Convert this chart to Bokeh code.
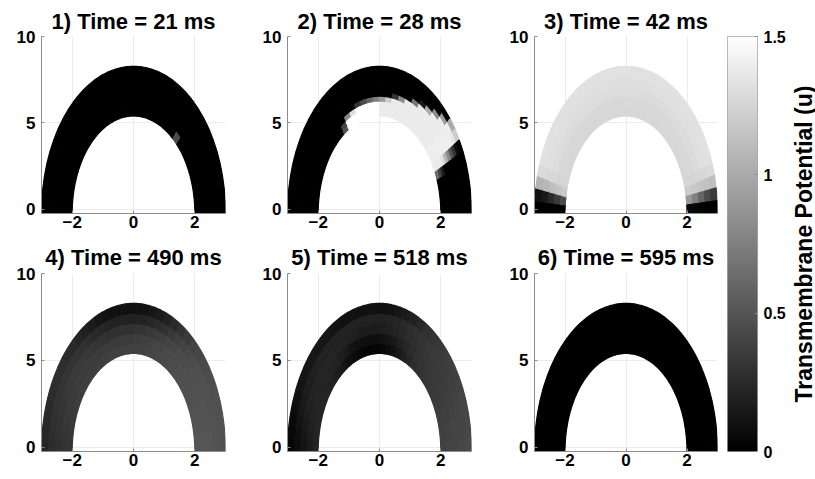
import numpy as np
from bokeh.plotting import figure
from bokeh.models import ColumnDataSource, LinearColorMapper, Range1d
from bokeh.layouts import row, column
from bokeh.transform import transform
from bokeh.core.properties import value
from bokeh.embed import file_html
from bokeh.resources import INLINE

# ---------------- data ----------------
TITLES = ["1) Time = 21 ms", "2) Time = 28 ms", "3) Time = 42 ms",
          "4) Time = 490 ms", "5) Time = 518 ms", "6) Time = 595 ms"]
X_TICKS = [-2, 0, 2]
Y_TICKS = [0, 5, 10]
CB_TICKS = [0, 0.5, 1, 1.5]
CB_TICK_LABELS = ["0", "0.5", "1", "1.5"]
CB_LABEL = "Transmembrane Potential (u)"
V_MIN, V_MAX = 0.0, 1.5

# wall geometry (half-ellipse annulus)
OUTER_A, OUTER_B = 3.0, 8.52
INNER_A, INNER_B = 2.0, 5.64
BASE_Y = -0.24

# field values per panel: rows = layers inner -> outer,
# columns = 36 cells along the wall from left base to right base
P1_VALUES = [
    [0.0] * 26 + [0.45] + [0.0] * 9,
    [0.0] * 36,
    [0.0] * 36,
    [0.0] * 36,
    [0.0] * 36,
]
P2_VALUES = [
    [0]*11 + [0.5] + [1.5]*6 + [1.38]*10 + [1.4, 1.4, 1.38, 0.65] + [0]*4,
    [0]*11 + [0.4] + [1.5]*6 + [1.38]*10 + [1.4, 1.4, 1.38, 0.4] + [0]*4,
    [0]*11 + [0, 0.8, 1.3] + [1.5]*4 + [1.38]*10 + [1.4, 1.4, 1.38, 0.18] + [0]*4,
    [0]*14 + [0.3, 0.45, 0.6, 0.75, 0.9, 1.2] + [1.38]*8 + [1.4, 1.4, 1.3, 0] + [0]*4,
    [0]*20 + [0.3, 0.8] + [1.38]*6 + [1.4, 1.4, 1.05] + [0]*5,
    [0]*23 + [0.7] + [1.38]*4 + [1.4, 1.4, 0.8] + [0]*5,
    [0]*24 + [0.15, 1.0, 1.38, 1.38, 1.4, 1.4, 0.5] + [0]*5,
    [0]*26 + [0.8, 1.38, 1.4, 1.4, 0.3] + [0]*5,
    [0]*27 + [0.9, 1.4, 1.35, 0.08] + [0]*5,
    [0]*28 + [1.0, 1.2, 0] + [0]*5,
]
P3_VALUES = [
    [0, 0.45, 1.18, 1.25] + [1.26]*28 + [1.25, 1.2, 0.9, 0.05],
    [0, 0.35, 1.15, 1.25] + [1.27]*28 + [1.25, 1.18, 0.75, 0.03],
    [0, 0.25, 1.12, 1.26] + [1.29]*28 + [1.26, 1.16, 0.6, 0.02],
    [0, 0.15, 1.08, 1.27] + [1.31]*28 + [1.27, 1.14, 0.45, 0],
    [0, 0.1, 1.05, 1.28] + [1.32]*28 + [1.28, 1.12, 0.35, 0],
]
P4_VALUES = [
    [0.31,0.32,0.33,0.34,0.35,0.36,0.36,0.37,0.37,0.37,0.37,0.37,0.37,0.37,0.38,0.38,0.38,0.38,
     0.38,0.39,0.4,0.41,0.42,0.43,0.44,0.45,0.46,0.47,0.47,0.48,0.48,0.49,0.49,0.49,0.5,0.5],
    [0.3,0.31,0.32,0.33,0.34,0.35,0.35,0.36,0.36,0.36,0.36,0.35,0.35,0.35,0.35,0.35,0.35,0.35,
     0.36,0.37,0.38,0.4,0.41,0.43,0.44,0.45,0.46,0.47,0.47,0.48,0.48,0.49,0.49,0.49,0.5,0.5],
    [0.28,0.29,0.3,0.31,0.32,0.33,0.34,0.34,0.34,0.34,0.33,0.32,0.31,0.3,0.29,0.29,0.29,0.29,
     0.3,0.31,0.33,0.35,0.37,0.4,0.42,0.44,0.45,0.46,0.47,0.48,0.48,0.49,0.49,0.49,0.5,0.5],
    [0.26,0.27,0.28,0.29,0.3,0.31,0.31,0.31,0.31,0.3,0.29,0.27,0.25,0.23,0.21,0.2,0.2,0.2,
     0.2,0.21,0.23,0.26,0.29,0.33,0.37,0.4,0.43,0.45,0.46,0.47,0.48,0.48,0.48,0.49,0.49,0.49],
    [0.22,0.23,0.24,0.25,0.26,0.27,0.27,0.27,0.26,0.25,0.22,0.19,0.16,0.13,0.11,0.1,0.1,0.1,
     0.1,0.11,0.13,0.16,0.2,0.25,0.3,0.35,0.39,0.42,0.44,0.45,0.46,0.47,0.47,0.48,0.48,0.48],
]
P5_VALUES = [
    [0.2,0.21,0.22,0.22,0.22,0.22,0.22,0.21,0.2,0.18,0.16,0.12,0.09,0.07,0.05,0.04,0.04,0.04,
     0.05,0.07,0.1,0.14,0.19,0.23,0.27,0.29,0.31,0.32,0.33,0.34,0.35,0.36,0.37,0.38,0.38,0.39],
    [0.16,0.17,0.19,0.2,0.21,0.22,0.22,0.22,0.22,0.21,0.2,0.18,0.15,0.12,0.1,0.09,0.09,0.09,
     0.1,0.12,0.15,0.19,0.23,0.26,0.29,0.31,0.32,0.33,0.34,0.35,0.36,0.37,0.38,0.39,0.39,0.4],
    [0.12,0.13,0.15,0.17,0.19,0.2,0.21,0.22,0.22,0.22,0.22,0.21,0.2,0.19,0.18,0.17,0.17,0.17,
     0.18,0.19,0.21,0.23,0.26,0.28,0.3,0.32,0.33,0.34,0.35,0.36,0.37,0.38,0.39,0.4,0.4,0.41],
    [0.08,0.09,0.11,0.13,0.15,0.17,0.18,0.19,0.2,0.2,0.2,0.2,0.2,0.2,0.2,0.2,0.2,0.2,
     0.2,0.21,0.22,0.24,0.27,0.29,0.31,0.33,0.34,0.35,0.36,0.37,0.38,0.39,0.4,0.41,0.41,0.42],
    [0.04,0.05,0.06,0.08,0.1,0.12,0.13,0.14,0.14,0.14,0.13,0.12,0.11,0.1,0.1,0.1,0.1,0.1,
     0.1,0.11,0.13,0.16,0.2,0.24,0.28,0.31,0.33,0.35,0.37,0.38,0.39,0.4,0.41,0.42,0.42,0.43],
]
P6_VALUES = [[0.0] * 36 for _ in range(5)]

PANEL_VALUES = [P1_VALUES, P2_VALUES, P3_VALUES, P4_VALUES, P5_VALUES, P6_VALUES]

# ---------------- style ----------------
FONT = "Liberation Sans"
GRAY = ["#%02x%02x%02x" % (i, i, i) for i in range(256)]
mapper = LinearColorMapper(palette=GRAY, low=V_MIN, high=V_MAX)

COL_BORDERS = [(41, 31), (31, 32), (31, 5)]
COL_FRAME_W = [184, 184, 183]
ROW_SPEC = [(36, 177, 26, 5), (34, 178, 24, 7)]  # top border, frame h, bottom border, title standoff


def cell_source(vals):
    n_rad = len(vals)
    n_ang = len(vals[0])
    th = np.linspace(np.pi, 0.0, n_ang + 1)
    rr = np.linspace(0.0, 1.0, n_rad + 1)
    xs, ys, vs = [], [], []

    def edge(r, tt):
        a = INNER_A + (OUTER_A - INNER_A) * r
        b = INNER_B + (OUTER_B - INNER_B) * r
        return a * np.cos(tt), BASE_Y + b * np.sin(tt)

    for k in range(n_rad):
        for j in range(n_ang):
            t = np.linspace(th[j], th[j + 1], 4)
            xa, ya = edge(rr[k], t)
            xb, yb = edge(rr[k + 1], t[::-1])
            xs.append(np.concatenate([xa, xb]).tolist())
            ys.append(np.concatenate([ya, yb]).tolist())
            vs.append(vals[k][j])
    return ColumnDataSource(dict(xs=xs, ys=ys, v=vs))


def make_panel(idx):
    r, c = divmod(idx, 3)
    top, fh, bottom, standoff = ROW_SPEC[r]
    left, right = COL_BORDERS[c]
    p = figure(frame_width=COL_FRAME_W[c], frame_height=fh,
               min_border_top=top, min_border_bottom=bottom,
               min_border_left=left, min_border_right=right,
               x_range=Range1d(-3, 3), y_range=Range1d(BASE_Y, 10),
               toolbar_location=None, output_backend="svg", title=TITLES[idx],
               outline_line_color=None)
    p.title.align = "center"
    p.title.text_font = FONT
    p.title.text_font_style = "bold"
    p.title.text_font_size = "22px"
    p.title.text_color = "black"
    p.title.standoff = standoff
    p.title.offset = 0
    src = cell_source(PANEL_VALUES[idx])
    p.patches("xs", "ys", source=src,
              fill_color=transform("v", mapper),
              line_color=transform("v", mapper), line_width=1.2)
    p.xaxis.ticker = X_TICKS
    p.yaxis.ticker = Y_TICKS
    for ax in (p.xaxis[0], p.yaxis[0]):
        ax.major_label_text_font = FONT
        ax.major_label_text_font_style = "bold"
        ax.major_label_text_font_size = "17px"
        ax.major_label_text_color = "black"
        ax.axis_line_color = "#8c8c8c"
        ax.major_tick_line_color = "#8c8c8c"
        ax.major_tick_in = 3
        ax.major_tick_out = 0
        ax.minor_tick_line_color = None
    p.xaxis.major_label_standoff = 2
    p.yaxis.major_label_standoff = 6
    p.xgrid.grid_line_color = "#ebebeb"
    p.ygrid.grid_line_color = "#ebebeb"
    return p


panels = [make_panel(i) for i in range(6)]

# colorbar
cb = figure(frame_width=30, frame_height=415, min_border_top=36, min_border_bottom=24,
            min_border_left=5, min_border_right=30,
            x_range=Range1d(0, 1), y_range=Range1d(V_MIN, V_MAX),
            toolbar_location=None, output_backend="svg", title=None,
            x_axis_location=None, y_axis_location="right",
            outline_line_color="#a6a6a6")
grad = np.linspace(V_MIN, V_MAX, 256).reshape(256, 1)
cb.image(image=[grad], x=0, y=V_MIN, dw=1, dh=V_MAX - V_MIN, color_mapper=mapper)
cb.xgrid.visible = False
cb.ygrid.visible = False
ya = cb.yaxis[0]
ya.ticker = CB_TICKS
ya.major_label_overrides = {t: s for t, s in zip(CB_TICKS, CB_TICK_LABELS)}
ya.major_label_text_font = FONT
ya.major_label_text_font_style = "bold"
ya.major_label_text_font_size = "16px"
ya.major_label_text_color = "black"
ya.axis_line_color = None
ya.major_tick_line_color = "#8c8c8c"
ya.major_tick_in = 3
ya.major_tick_out = 0
ya.minor_tick_line_color = None
ya.major_label_standoff = 6

# colorbar label (rotated, reading bottom to top)
lab = figure(frame_width=28, frame_height=415, min_border_top=36, min_border_bottom=24,
             min_border_left=0, min_border_right=0,
             x_range=Range1d(0, 1), y_range=Range1d(0, 1),
             toolbar_location=None, output_backend="svg", title=None,
             x_axis_location=None, y_axis_location=None, outline_line_color=None)
lab.xgrid.visible = False
lab.ygrid.visible = False
lab.text(x=[0.54], y=[0.5], text=[CB_LABEL], angle=np.pi / 2,
         text_align="center", text_baseline="middle",
         text_font=value(FONT), text_font_style="bold", text_font_size="23px",
         text_color="black")

layout = row(column(row(*panels[:3]), row(*panels[3:])), cb, lab)

with open("out.html", "w") as f:
    f.write(file_html(layout, INLINE))
